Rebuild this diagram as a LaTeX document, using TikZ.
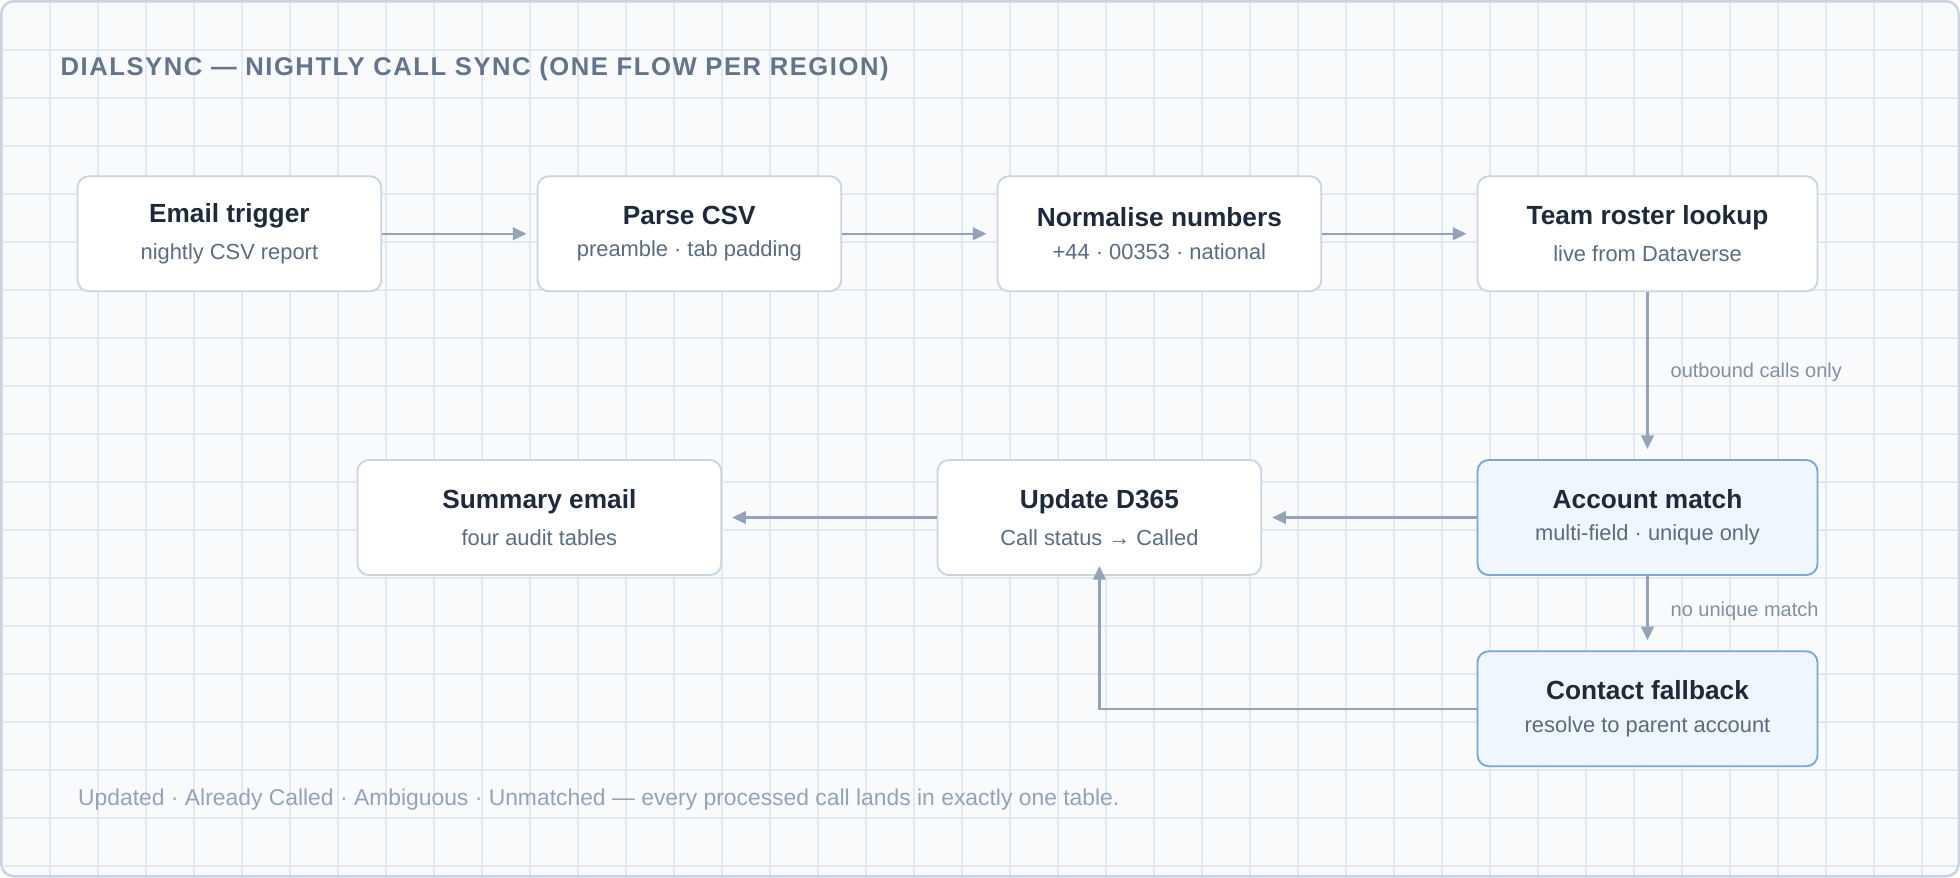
\documentclass[tikz,border=0pt]{standalone}
\usepackage{fontspec}
\setmainfont{Liberation Sans}
\usetikzlibrary{arrows.meta}
\definecolor{bg}{HTML}{F8FAFC}
\definecolor{frame}{HTML}{CBD5E1}
\definecolor{gridc}{HTML}{E4E9F0}
\definecolor{edge}{HTML}{94A3B8}
\definecolor{ttl}{HTML}{64748B}
\definecolor{dark}{HTML}{1E293B}
\definecolor{sub}{HTML}{5B6B80}
\definecolor{bfill}{HTML}{EFF6FF}
\definecolor{bstroke}{HTML}{7AA7D8}
\begin{document}
\begin{tikzpicture}[x=1pt,y=-1pt,
  box/.style={draw=frame,line width=1.5pt,fill=white,rounded corners=9pt,minimum height=92pt,inner sep=0pt,align=center},
  hi/.style={box,draw=bstroke,fill=bfill},
  arr/.style={draw=edge,line width=2pt,-{Triangle[length=11pt,width=10pt]}},
  lab/.style={text=ttl!80,font=\fontsize{16}{19}\selectfont,anchor=west}]
\useasboundingbox (0,0) rectangle (1568,702);
\fill[bg,rounded corners=10pt] (1,1) rectangle (1567,701);
\begin{scope}
\clip[rounded corners=10pt] (1,1) rectangle (1567,701);
\foreach \i in {1,...,40} \draw[gridc,line width=1pt] (\i*38.4+1.6,0) -- (\i*38.4+1.6,702);
\foreach \i in {1,...,18} \draw[gridc,line width=1pt] (0,\i*38.4+1.6) -- (1568,\i*38.4+1.6);
\end{scope}
\draw[frame,line width=2pt,rounded corners=10pt] (1,1) rectangle (1567,701);
\node[anchor=west,text=ttl,font=\bfseries\fontsize{20.5}{24}\selectfont\addfontfeature{LetterSpace=6}] (title) at (45,55) {DIALSYNC — NIGHTLY CALL SYNC (ONE FLOW PER REGION)};
\newcommand\bx[2]{{\fontsize{21}{24}\selectfont\bfseries\color{dark}#1}\\[12pt]{\fontsize{17.5}{20}\selectfont\color{sub}#2}}
\node[box,minimum width=243pt] (email) at (183.5,187) {\bx{Email trigger}{nightly CSV report}};
\node[box,minimum width=243pt] (parse) at (551.5,187) {\bx{Parse CSV}{preamble · tab padding}};
\node[box,minimum width=259pt] (norm) at (927.5,187) {\bx{Normalise numbers}{+44 · 00353 · national}};
\node[box,minimum width=272pt] (roster) at (1318,187) {\bx{Team roster lookup}{live from Dataverse}};
\node[box,minimum width=291pt] (summary) at (431.5,414) {\bx{Summary email}{four audit tables}};
\node[box,minimum width=259pt] (update) at (879.5,414) {\bx{Update D365}{Call status → Called}};
\node[hi,minimum width=272pt] (account) at (1318,414) {\bx{Account match}{multi-field · unique only}};
\node[hi,minimum width=272pt] (contact) at (1318,567) {\bx{Contact fallback}{resolve to parent account}};
\draw[arr] (email) -- ([xshift=-8pt]parse.west);
\draw[arr] (parse) -- ([xshift=-8pt]norm.west);
\draw[arr] (norm) -- ([xshift=-8pt]roster.west);
\coordinate (rt) at ([yshift=8pt]account.north);
\draw[arr] (roster) -- (rt);
\node[lab] (l1) at (1333,298) {outbound calls only};
\coordinate (ct) at ([yshift=8pt]contact.north);
\draw[arr] (account) -- (ct);
\node[lab] (l2) at (1333,489) {no unique match};
\draw[arr] (account) -- ([xshift=8pt]update.east);
\draw[arr] (update) -- ([xshift=8pt]summary.east);
\coordinate (ub) at ([yshift=8pt]update.south);
\draw[arr] (contact.west) -| (ub);
\node[anchor=west,text=edge,font=\fontsize{18.3}{21}\selectfont] (foot) at (59,640) {Updated · Already Called · Ambiguous · Unmatched — every processed call lands in exactly one table.};
\end{tikzpicture}
\end{document}
